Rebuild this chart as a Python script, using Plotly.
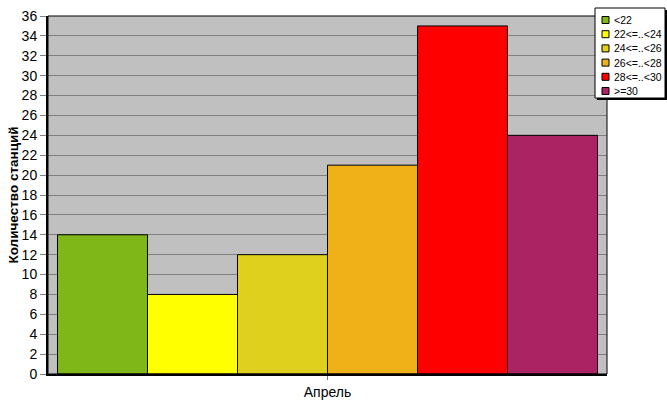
import plotly.graph_objects as go

categories = ["Апрель"]
series_names = ["<22", "22<=..<24", "24<=..<26", "26<=..<28", "28<=..<30", ">=30"]
series_values = [14, 8, 12, 21, 35, 24]
series_colors = ["#7FB719", "#FFFF00", "#E0D01E", "#F0B018", "#FF0000", "#AC2364"]
y_ticks = list(range(0, 37, 2))

W, H = 667, 415
L, R, T, B = 48, 60, 16, 41
PW, PH = W - L - R, H - T - B


def px(x):
    return (x - L) / PW


def py(y):
    return (H - B - y) / PH


fig = go.Figure()
for name, val, col in zip(series_names, series_values, series_colors):
    fig.add_trace(go.Bar(
        x=categories, y=[val], name=name,
        marker=dict(color=col, line=dict(color="black", width=1)),
    ))

fig.update_layout(
    width=W, height=H,
    margin=dict(l=L, r=R, t=T, b=B, autoexpand=False),
    paper_bgcolor="white", plot_bgcolor="#C0C0C0",
    barmode="group", bargap=0.034, bargroupgap=0,
    font=dict(family="Liberation Sans, Arial", size=13, color="black"),
    showlegend=False,
)
fig.update_xaxes(
    showline=True, linecolor="black", linewidth=2,
    ticks="outside", tickcolor="#808080", ticklen=4,
    range=[-0.5, 0.5], showgrid=False,
    tickfont=dict(size=14),
)
fig.update_yaxes(
    range=[0, 36], tickvals=y_ticks,
    showline=True, linecolor="black", linewidth=2,
    ticks="outside", tickcolor="#808080", ticklen=6,
    showgrid=True, gridcolor="#808080", gridwidth=1,
    zeroline=False,
    title=dict(text="<b>Количество станций</b>", standoff=0, font=dict(size=13.5)),
    tickfont=dict(size=14),
)
# thin top/right frame
fig.add_shape(type="rect", xref="paper", yref="paper", x0=0, y0=0, x1=1, y1=1,
              line=dict(color="black", width=1), layer="above")

# legend box (manual, Excel-like) with shadow
lx0, lx1, ly0, ly1 = 595, 665, 8, 98
fig.add_shape(type="rect", xref="paper", yref="paper",
              x0=px(lx0 + 2), x1=px(lx1 + 2), y0=py(ly0 + 2), y1=py(ly1 + 2),
              fillcolor="black", line=dict(width=0), layer="above")
fig.add_shape(type="rect", xref="paper", yref="paper",
              x0=px(lx0), x1=px(lx1), y0=py(ly0), y1=py(ly1),
              fillcolor="white", line=dict(color="black", width=1), layer="above")
for i, (name, col) in enumerate(zip(series_names, series_colors)):
    cy = 20 + i * 14.2
    fig.add_shape(type="rect", xref="paper", yref="paper",
                  x0=px(602), x1=px(609), y0=py(cy - 3.5), y1=py(cy + 3.5),
                  fillcolor=col, line=dict(color="black", width=1), layer="above")
    fig.add_annotation(xref="paper", yref="paper", x=px(612), y=py(cy),
                       text=name, showarrow=False, xanchor="left", yanchor="middle",
                       font=dict(size=10.5), align="left")

fig.write_html("out.html", config={"displayModeBar": False},
               post_script="document.body.style.margin='0';document.body.style.padding='0';")
